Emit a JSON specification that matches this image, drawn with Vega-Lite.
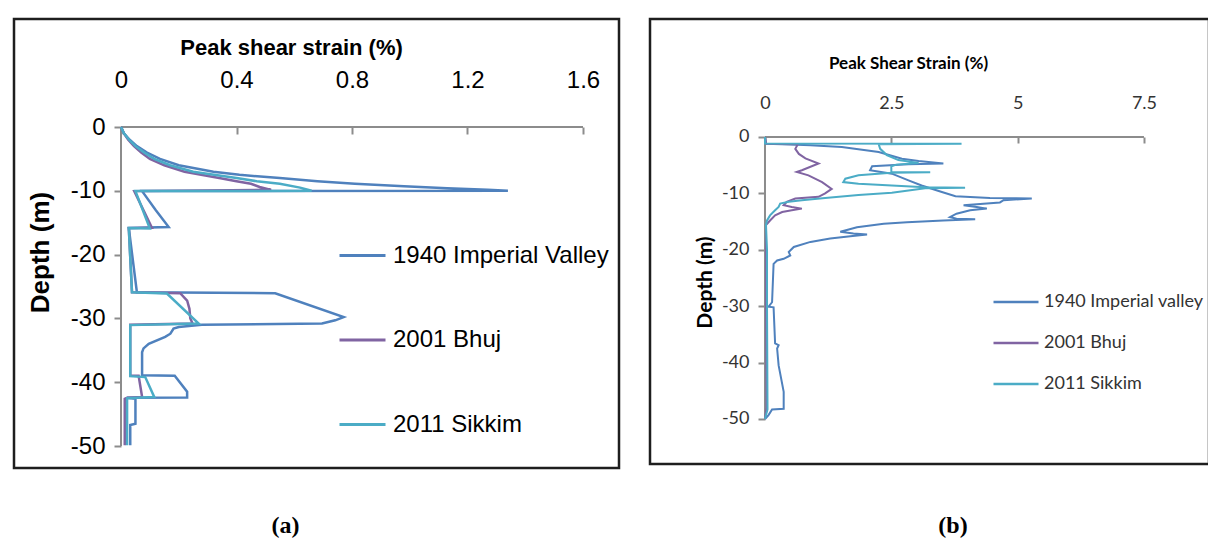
{
"$schema": "https://vega.github.io/schema/vega-lite/v6.json",
"padding": {"left": 12, "top": 17, "right": 0, "bottom": 0},
"background": "white",
"config": {"view": {"stroke": "#1e1e1e", "strokeWidth": 2.5}, "axis": {"grid": false}},
"datasets": {
"a": [
{"s":"1940 Imperial Valley","i":0,"x":0,"d":0},
{"s":"1940 Imperial Valley","i":1,"x":0.01,"d":-1},
{"s":"1940 Imperial Valley","i":2,"x":0.03,"d":-2},
{"s":"1940 Imperial Valley","i":3,"x":0.055,"d":-3},
{"s":"1940 Imperial Valley","i":4,"x":0.09,"d":-4},
{"s":"1940 Imperial Valley","i":5,"x":0.135,"d":-5},
{"s":"1940 Imperial Valley","i":6,"x":0.2,"d":-6},
{"s":"1940 Imperial Valley","i":7,"x":0.32,"d":-7},
{"s":"1940 Imperial Valley","i":8,"x":0.41,"d":-7.5},
{"s":"1940 Imperial Valley","i":9,"x":0.55,"d":-8},
{"s":"1940 Imperial Valley","i":10,"x":0.68,"d":-8.5},
{"s":"1940 Imperial Valley","i":11,"x":0.81,"d":-8.9},
{"s":"1940 Imperial Valley","i":12,"x":0.98,"d":-9.3},
{"s":"1940 Imperial Valley","i":13,"x":1.13,"d":-9.6},
{"s":"1940 Imperial Valley","i":14,"x":1.27,"d":-9.85},
{"s":"1940 Imperial Valley","i":15,"x":1.34,"d":-10},
{"s":"1940 Imperial Valley","i":16,"x":0.073,"d":-10.05},
{"s":"1940 Imperial Valley","i":17,"x":0.12,"d":-13},
{"s":"1940 Imperial Valley","i":18,"x":0.165,"d":-15.67},
{"s":"1940 Imperial Valley","i":19,"x":0.027,"d":-15.83},
{"s":"1940 Imperial Valley","i":20,"x":0.055,"d":-25.9},
{"s":"1940 Imperial Valley","i":21,"x":0.534,"d":-26.05},
{"s":"1940 Imperial Valley","i":22,"x":0.771,"d":-29.8},
{"s":"1940 Imperial Valley","i":23,"x":0.742,"d":-30.3},
{"s":"1940 Imperial Valley","i":24,"x":0.696,"d":-30.8},
{"s":"1940 Imperial Valley","i":25,"x":0.28,"d":-31},
{"s":"1940 Imperial Valley","i":26,"x":0.2,"d":-31.35},
{"s":"1940 Imperial Valley","i":27,"x":0.182,"d":-31.6},
{"s":"1940 Imperial Valley","i":28,"x":0.171,"d":-32.4},
{"s":"1940 Imperial Valley","i":29,"x":0.153,"d":-32.9},
{"s":"1940 Imperial Valley","i":30,"x":0.096,"d":-34},
{"s":"1940 Imperial Valley","i":31,"x":0.078,"d":-34.7},
{"s":"1940 Imperial Valley","i":32,"x":0.073,"d":-35.3},
{"s":"1940 Imperial Valley","i":33,"x":0.073,"d":-38.9},
{"s":"1940 Imperial Valley","i":34,"x":0.186,"d":-39},
{"s":"1940 Imperial Valley","i":35,"x":0.229,"d":-41.5},
{"s":"1940 Imperial Valley","i":36,"x":0.229,"d":-42.4},
{"s":"1940 Imperial Valley","i":37,"x":0.021,"d":-42.45},
{"s":"1940 Imperial Valley","i":38,"x":0.05,"d":-42.6},
{"s":"1940 Imperial Valley","i":39,"x":0.05,"d":-46.5},
{"s":"1940 Imperial Valley","i":40,"x":0.032,"d":-46.7},
{"s":"1940 Imperial Valley","i":41,"x":0.032,"d":-49.9},
{"s":"2001 Bhuj","i":0,"x":0,"d":0},
{"s":"2001 Bhuj","i":1,"x":0.01,"d":-1},
{"s":"2001 Bhuj","i":2,"x":0.025,"d":-2},
{"s":"2001 Bhuj","i":3,"x":0.045,"d":-3},
{"s":"2001 Bhuj","i":4,"x":0.07,"d":-4},
{"s":"2001 Bhuj","i":5,"x":0.1,"d":-5},
{"s":"2001 Bhuj","i":6,"x":0.15,"d":-6},
{"s":"2001 Bhuj","i":7,"x":0.22,"d":-7},
{"s":"2001 Bhuj","i":8,"x":0.34,"d":-8},
{"s":"2001 Bhuj","i":9,"x":0.4,"d":-8.5},
{"s":"2001 Bhuj","i":10,"x":0.45,"d":-8.9},
{"s":"2001 Bhuj","i":11,"x":0.48,"d":-9.4},
{"s":"2001 Bhuj","i":12,"x":0.52,"d":-9.85},
{"s":"2001 Bhuj","i":13,"x":0.046,"d":-10.05},
{"s":"2001 Bhuj","i":14,"x":0.107,"d":-15.8},
{"s":"2001 Bhuj","i":15,"x":0.027,"d":-15.85},
{"s":"2001 Bhuj","i":16,"x":0.038,"d":-25.9},
{"s":"2001 Bhuj","i":17,"x":0.205,"d":-26.05},
{"s":"2001 Bhuj","i":18,"x":0.229,"d":-27.2},
{"s":"2001 Bhuj","i":19,"x":0.237,"d":-28.5},
{"s":"2001 Bhuj","i":20,"x":0.24,"d":-30},
{"s":"2001 Bhuj","i":21,"x":0.248,"d":-30.8},
{"s":"2001 Bhuj","i":22,"x":0.032,"d":-31},
{"s":"2001 Bhuj","i":23,"x":0.032,"d":-39},
{"s":"2001 Bhuj","i":24,"x":0.061,"d":-39},
{"s":"2001 Bhuj","i":25,"x":0.073,"d":-42.3},
{"s":"2001 Bhuj","i":26,"x":0.021,"d":-42.45},
{"s":"2001 Bhuj","i":27,"x":0.013,"d":-42.6},
{"s":"2001 Bhuj","i":28,"x":0.013,"d":-49.9},
{"s":"2011 Sikkim","i":0,"x":0,"d":0},
{"s":"2011 Sikkim","i":1,"x":0.01,"d":-1},
{"s":"2011 Sikkim","i":2,"x":0.028,"d":-2},
{"s":"2011 Sikkim","i":3,"x":0.05,"d":-3},
{"s":"2011 Sikkim","i":4,"x":0.08,"d":-4},
{"s":"2011 Sikkim","i":5,"x":0.115,"d":-5},
{"s":"2011 Sikkim","i":6,"x":0.17,"d":-6},
{"s":"2011 Sikkim","i":7,"x":0.25,"d":-7},
{"s":"2011 Sikkim","i":8,"x":0.4,"d":-8},
{"s":"2011 Sikkim","i":9,"x":0.47,"d":-8.5},
{"s":"2011 Sikkim","i":10,"x":0.55,"d":-8.9},
{"s":"2011 Sikkim","i":11,"x":0.62,"d":-9.5},
{"s":"2011 Sikkim","i":12,"x":0.66,"d":-10},
{"s":"2011 Sikkim","i":13,"x":0.05,"d":-10.05},
{"s":"2011 Sikkim","i":14,"x":0.1,"d":-15.9},
{"s":"2011 Sikkim","i":15,"x":0.027,"d":-15.85},
{"s":"2011 Sikkim","i":16,"x":0.038,"d":-25.9},
{"s":"2011 Sikkim","i":17,"x":0.159,"d":-26.1},
{"s":"2011 Sikkim","i":18,"x":0.269,"d":-30.8},
{"s":"2011 Sikkim","i":19,"x":0.032,"d":-31.05},
{"s":"2011 Sikkim","i":20,"x":0.032,"d":-39.05},
{"s":"2011 Sikkim","i":21,"x":0.084,"d":-39.2},
{"s":"2011 Sikkim","i":22,"x":0.115,"d":-42.3},
{"s":"2011 Sikkim","i":23,"x":0.021,"d":-42.5},
{"s":"2011 Sikkim","i":24,"x":0.021,"d":-49.9}
],
"b": [
{"s":"1940 Imperial valley","i":0,"x":0,"d":0},
{"s":"1940 Imperial valley","i":1,"x":0.02,"d":-1.2},
{"s":"1940 Imperial valley","i":2,"x":0.5,"d":-1.35},
{"s":"1940 Imperial valley","i":3,"x":0.9,"d":-1.45},
{"s":"1940 Imperial valley","i":4,"x":1.52,"d":-1.77},
{"s":"1940 Imperial valley","i":5,"x":2.25,"d":-2.66},
{"s":"1940 Imperial valley","i":6,"x":2.71,"d":-3.85},
{"s":"1940 Imperial valley","i":7,"x":3.04,"d":-4.26},
{"s":"1940 Imperial valley","i":8,"x":3.53,"d":-4.7},
{"s":"1940 Imperial valley","i":9,"x":2.84,"d":-4.85},
{"s":"1940 Imperial valley","i":10,"x":2.12,"d":-5.2},
{"s":"1940 Imperial valley","i":11,"x":2.08,"d":-5.9},
{"s":"1940 Imperial valley","i":12,"x":2.51,"d":-6.5},
{"s":"1940 Imperial valley","i":13,"x":2.84,"d":-7.7},
{"s":"1940 Imperial valley","i":14,"x":3.1,"d":-8.6},
{"s":"1940 Imperial valley","i":15,"x":3.5,"d":-9.75},
{"s":"1940 Imperial valley","i":16,"x":3.77,"d":-10.5},
{"s":"1940 Imperial valley","i":17,"x":4.45,"d":-10.8},
{"s":"1940 Imperial valley","i":18,"x":5.28,"d":-10.9},
{"s":"1940 Imperial valley","i":19,"x":4.72,"d":-11.2},
{"s":"1940 Imperial valley","i":20,"x":4.65,"d":-11.6},
{"s":"1940 Imperial valley","i":21,"x":3.93,"d":-12.1},
{"s":"1940 Imperial valley","i":22,"x":4.19,"d":-12.4},
{"s":"1940 Imperial valley","i":23,"x":4.39,"d":-12.7},
{"s":"1940 Imperial valley","i":24,"x":4.06,"d":-13},
{"s":"1940 Imperial valley","i":25,"x":3.79,"d":-13.6},
{"s":"1940 Imperial valley","i":26,"x":3.66,"d":-14.2},
{"s":"1940 Imperial valley","i":27,"x":3.79,"d":-14.5},
{"s":"1940 Imperial valley","i":28,"x":4.16,"d":-14.6},
{"s":"1940 Imperial valley","i":29,"x":3.53,"d":-14.8},
{"s":"1940 Imperial valley","i":30,"x":2.81,"d":-15.1},
{"s":"1940 Imperial valley","i":31,"x":2.35,"d":-15.4},
{"s":"1940 Imperial valley","i":32,"x":1.82,"d":-16},
{"s":"1940 Imperial valley","i":33,"x":1.62,"d":-16.5},
{"s":"1940 Imperial valley","i":34,"x":1.49,"d":-16.8},
{"s":"1940 Imperial valley","i":35,"x":1.75,"d":-17.1},
{"s":"1940 Imperial valley","i":36,"x":2.02,"d":-17.3},
{"s":"1940 Imperial valley","i":37,"x":1.69,"d":-17.6},
{"s":"1940 Imperial valley","i":38,"x":1.29,"d":-18},
{"s":"1940 Imperial valley","i":39,"x":0.9,"d":-18.6},
{"s":"1940 Imperial valley","i":40,"x":0.57,"d":-19.5},
{"s":"1940 Imperial valley","i":41,"x":0.47,"d":-20.4},
{"s":"1940 Imperial valley","i":42,"x":0.5,"d":-21},
{"s":"1940 Imperial valley","i":43,"x":0.37,"d":-21.6},
{"s":"1940 Imperial valley","i":44,"x":0.24,"d":-21.9},
{"s":"1940 Imperial valley","i":45,"x":0.17,"d":-22.5},
{"s":"1940 Imperial valley","i":46,"x":0.14,"d":-29.3},
{"s":"1940 Imperial valley","i":47,"x":0.07,"d":-30.1},
{"s":"1940 Imperial valley","i":48,"x":0.17,"d":-30.2},
{"s":"1940 Imperial valley","i":49,"x":0.2,"d":-36.6},
{"s":"1940 Imperial valley","i":50,"x":0.27,"d":-36.9},
{"s":"1940 Imperial valley","i":51,"x":0.24,"d":-37.5},
{"s":"1940 Imperial valley","i":52,"x":0.27,"d":-40.5},
{"s":"1940 Imperial valley","i":53,"x":0.37,"d":-45.2},
{"s":"1940 Imperial valley","i":54,"x":0.37,"d":-48.2},
{"s":"1940 Imperial valley","i":55,"x":0.14,"d":-48.3},
{"s":"1940 Imperial valley","i":56,"x":0.07,"d":-49.3},
{"s":"1940 Imperial valley","i":57,"x":0,"d":-50},
{"s":"2001 Bhuj","i":0,"x":0,"d":0},
{"s":"2001 Bhuj","i":1,"x":0.02,"d":-1.2},
{"s":"2001 Bhuj","i":2,"x":0.65,"d":-1.3},
{"s":"2001 Bhuj","i":3,"x":0.6,"d":-2.1},
{"s":"2001 Bhuj","i":4,"x":0.67,"d":-3},
{"s":"2001 Bhuj","i":5,"x":0.8,"d":-3.8},
{"s":"2001 Bhuj","i":6,"x":1.06,"d":-4.7},
{"s":"2001 Bhuj","i":7,"x":0.73,"d":-5.9},
{"s":"2001 Bhuj","i":8,"x":0.63,"d":-6.2},
{"s":"2001 Bhuj","i":9,"x":0.86,"d":-6.8},
{"s":"2001 Bhuj","i":10,"x":1.13,"d":-8},
{"s":"2001 Bhuj","i":11,"x":1.32,"d":-9.2},
{"s":"2001 Bhuj","i":12,"x":1.19,"d":-10},
{"s":"2001 Bhuj","i":13,"x":1.06,"d":-10.6},
{"s":"2001 Bhuj","i":14,"x":0.6,"d":-10.9},
{"s":"2001 Bhuj","i":15,"x":0.43,"d":-11.5},
{"s":"2001 Bhuj","i":16,"x":0.37,"d":-12.1},
{"s":"2001 Bhuj","i":17,"x":0.53,"d":-12.4},
{"s":"2001 Bhuj","i":18,"x":0.73,"d":-12.7},
{"s":"2001 Bhuj","i":19,"x":0.53,"d":-13},
{"s":"2001 Bhuj","i":20,"x":0.34,"d":-13.3},
{"s":"2001 Bhuj","i":21,"x":0.2,"d":-13.9},
{"s":"2001 Bhuj","i":22,"x":0.1,"d":-14.8},
{"s":"2001 Bhuj","i":23,"x":0.02,"d":-15.6},
{"s":"2001 Bhuj","i":24,"x":0.02,"d":-30},
{"s":"2001 Bhuj","i":25,"x":0.03,"d":-48},
{"s":"2001 Bhuj","i":26,"x":0,"d":-50},
{"s":"2011 Sikkim","i":0,"x":0,"d":0},
{"s":"2011 Sikkim","i":1,"x":0,"d":-1.15},
{"s":"2011 Sikkim","i":2,"x":3.89,"d":-1.2},
{"s":"2011 Sikkim","i":3,"x":2.25,"d":-1.3},
{"s":"2011 Sikkim","i":4,"x":2.28,"d":-2.1},
{"s":"2011 Sikkim","i":5,"x":2.41,"d":-3.2},
{"s":"2011 Sikkim","i":6,"x":2.64,"d":-4.1},
{"s":"2011 Sikkim","i":7,"x":3.04,"d":-4.6},
{"s":"2011 Sikkim","i":8,"x":2.6,"d":-4.9},
{"s":"2011 Sikkim","i":9,"x":2.5,"d":-5.2},
{"s":"2011 Sikkim","i":10,"x":2.5,"d":-6.2},
{"s":"2011 Sikkim","i":11,"x":3.27,"d":-6.25},
{"s":"2011 Sikkim","i":12,"x":2.5,"d":-6.35},
{"s":"2011 Sikkim","i":13,"x":1.85,"d":-6.8},
{"s":"2011 Sikkim","i":14,"x":1.59,"d":-7.4},
{"s":"2011 Sikkim","i":15,"x":1.55,"d":-8},
{"s":"2011 Sikkim","i":16,"x":1.85,"d":-8.3},
{"s":"2011 Sikkim","i":17,"x":2.51,"d":-8.6},
{"s":"2011 Sikkim","i":18,"x":3.17,"d":-8.9},
{"s":"2011 Sikkim","i":19,"x":3.96,"d":-9},
{"s":"2011 Sikkim","i":20,"x":3.17,"d":-9.1},
{"s":"2011 Sikkim","i":21,"x":2.84,"d":-9.5},
{"s":"2011 Sikkim","i":22,"x":2.51,"d":-9.9},
{"s":"2011 Sikkim","i":23,"x":1.85,"d":-10.3},
{"s":"2011 Sikkim","i":24,"x":1.19,"d":-10.8},
{"s":"2011 Sikkim","i":25,"x":0.73,"d":-11.2},
{"s":"2011 Sikkim","i":26,"x":0.47,"d":-11.5},
{"s":"2011 Sikkim","i":27,"x":0.3,"d":-11.8},
{"s":"2011 Sikkim","i":28,"x":0.27,"d":-12.4},
{"s":"2011 Sikkim","i":29,"x":0.2,"d":-13},
{"s":"2011 Sikkim","i":30,"x":0.1,"d":-13.9},
{"s":"2011 Sikkim","i":31,"x":0.04,"d":-14.8},
{"s":"2011 Sikkim","i":32,"x":0.02,"d":-15.6},
{"s":"2011 Sikkim","i":33,"x":0.04,"d":-20},
{"s":"2011 Sikkim","i":34,"x":0.04,"d":-30},
{"s":"2011 Sikkim","i":35,"x":0.05,"d":-48.3},
{"s":"2011 Sikkim","i":36,"x":0,"d":-50}
]
},
"spacing": 31,
"bounds": "flush",
"resolve": {"scale": {"color": "independent", "x": "independent", "y": "independent"}, "legend": {"color": "independent"}},
"hconcat": [
{
"width": 605, "height": 449,
"title": {"text": "(a)", "orient": "bottom", "anchor": "middle", "dx": -31, "offset": 46, "font": "Liberation Serif", "fontWeight": "bold", "fontSize": 24, "color": "#000"},
"layer": [
{"data": {"values": [{}]}, "mark": {"type": "rule", "color": "#8c8c8c", "strokeWidth": 2},
 "encoding": {"x": {"datum": 0, "type": "quantitative"}, "x2": {"datum": 1.6}, "y": {"datum": 0, "type": "quantitative"}}},
{"data": {"values": [{}]}, "mark": {"type": "rule", "color": "#8c8c8c", "strokeWidth": 2},
 "encoding": {"x": {"datum": 0, "type": "quantitative"}, "y": {"datum": 0, "type": "quantitative"}, "y2": {"datum": -50}}},
{"data": {"name": "a"}, "mark": {"type": "line", "strokeWidth": 2.5},
 "encoding": {
  "x": {"field": "x", "type": "quantitative", "scale": {"domain": [-0.3706, 1.7247], "nice": false, "zero": false},
   "axis": {"orient": "top", "offset": -108, "values": [0, 0.4, 0.8, 1.2, 1.6], "labelExpr": "'' + datum.value", "domain": false, "ticks": true, "tickSize": -7, "tickColor": "#8c8c8c", "tickWidth": 2, "labelFont": "Liberation Sans", "labelFontSize": 24, "labelColor": "#000", "labelPadding": 47, "labelBaseline": "alphabetic", "labelFlush": false, "labelOverlap": false, "title": "Peak shear strain (%)", "titleFont": "Liberation Sans", "titleFontSize": 22, "titleFontWeight": "bold", "titleColor": "#000", "titleX": 277, "titleY": -80, "titleBaseline": "middle", "titleAlign": "center"}},
  "y": {"field": "d", "type": "quantitative", "scale": {"domain": [-53.448, 16.928], "nice": false, "zero": false},
   "axis": {"orient": "left", "offset": -107, "values": [0, -10, -20, -30, -40, -50], "labelExpr": "'' + datum.value", "domain": false, "ticks": true, "tickSize": 7, "tickColor": "#8c8c8c", "tickWidth": 2, "labelFont": "Liberation Sans", "labelFontSize": 24, "labelColor": "#000", "labelPadding": 9, "labelFlush": false, "labelOverlap": false, "title": "Depth (m)", "titleFont": "Liberation Sans", "titleFontSize": 26, "titleFontWeight": "bold", "titleColor": "#000", "titleX": -81, "titleY": 233, "titleBaseline": "middle", "titleAlign": "center", "titleAngle": -90}},
  "color": {"field": "s", "type": "nominal", "scale": {"domain": ["1940 Imperial Valley", "2001 Bhuj", "2011 Sikkim"], "range": ["#4F81BD", "#8064A2", "#4BACC6"]},
   "legend": {"orient": "none", "legendX": 324, "legendY": 212, "title": null, "symbolType": "stroke", "symbolSize": 2116, "symbolStrokeWidth": 3, "labelFont": "Liberation Sans", "labelFontSize": 24, "labelColor": "#000", "labelOffset": 6, "rowPadding": 47.5, "padding": 0, "labelLimit": 400}},
  "order": {"field": "i", "type": "quantitative"}
 }}
]
},
{
"width": 559, "height": 445,
"title": {"text": "(b)", "orient": "bottom", "anchor": "middle", "dx": 23.5, "offset": 50, "font": "Liberation Serif", "fontWeight": "bold", "fontSize": 24, "color": "#000"},
"layer": [
{"data": {"values": [{}]}, "mark": {"type": "rule", "color": "#8c8c8c", "strokeWidth": 2},
 "encoding": {"x": {"datum": 0, "type": "quantitative"}, "x2": {"datum": 7.5}, "y": {"datum": 0, "type": "quantitative"}}},
{"data": {"values": [{}]}, "mark": {"type": "rule", "color": "#8c8c8c", "strokeWidth": 2},
 "encoding": {"x": {"datum": 0, "type": "quantitative"}, "y": {"datum": 0, "type": "quantitative"}, "y2": {"datum": -50}}},
{"data": {"name": "b"}, "mark": {"type": "line", "strokeWidth": 2},
 "encoding": {
  "x": {"field": "x", "type": "quantitative", "scale": {"domain": [-2.2757, 8.787], "nice": false, "zero": false},
   "axis": {"orient": "top", "offset": -118, "values": [0, 2.5, 5, 7.5], "labelExpr": "'' + datum.value", "domain": false, "ticks": true, "tickSize": -6, "tickColor": "#8c8c8c", "tickWidth": 2, "labelFont": "Lato", "labelFontSize": 18, "labelColor": "#333", "labelPadding": 35, "labelBaseline": "alphabetic", "labelFlush": false, "labelOverlap": false, "title": "Peak Shear Strain (%)", "titleFont": "Lato", "titleFontSize": 17, "titleFontWeight": "bold", "titleColor": "#000", "titleX": 258, "titleY": -74, "titleBaseline": "middle", "titleAlign": "center"}},
  "y": {"field": "d", "type": "quantitative", "scale": {"domain": [-57.98, 20.92], "nice": false, "zero": false},
   "axis": {"orient": "left", "offset": -115, "values": [0, -10, -20, -30, -40, -50], "labelExpr": "'' + datum.value", "domain": false, "ticks": true, "tickSize": 7, "tickColor": "#8c8c8c", "tickWidth": 2, "labelFont": "Lato", "labelFontSize": 18, "labelColor": "#333", "labelPadding": 9, "labelFlush": false, "labelOverlap": false, "title": "Depth (m)", "titleFont": "Lato", "titleFontSize": 21, "titleFontWeight": "bold", "titleColor": "#000", "titleX": -60, "titleY": 263, "titleBaseline": "middle", "titleAlign": "center", "titleAngle": -90}},
  "color": {"field": "s", "type": "nominal", "scale": {"domain": ["1940 Imperial valley", "2001 Bhuj", "2011 Sikkim"], "range": ["#4F81BD", "#8064A2", "#4BACC6"]},
   "legend": {"orient": "none", "legendX": 342, "legendY": 259, "title": null, "symbolType": "stroke", "symbolSize": 2025, "symbolStrokeWidth": 2.5, "labelFont": "Lato", "labelFontSize": 18, "labelColor": "#333", "labelOffset": 4, "rowPadding": 8, "padding": 0, "labelLimit": 400}},
  "order": {"field": "i", "type": "quantitative"}
 }}
]
}
]
}
